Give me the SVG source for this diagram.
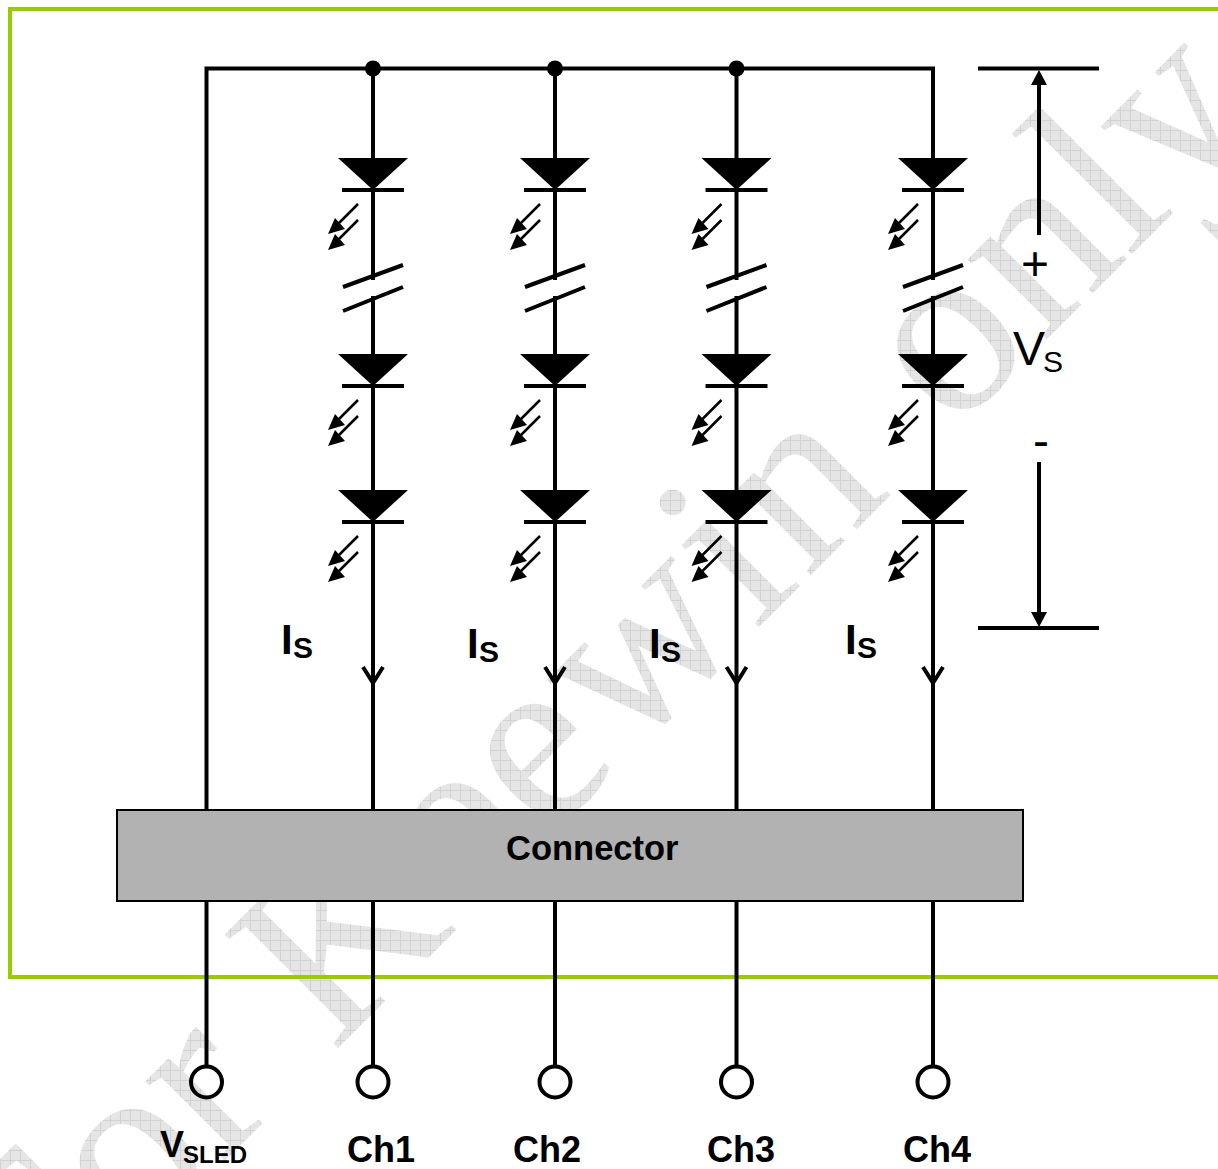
<svg xmlns="http://www.w3.org/2000/svg" xmlns:xlink="http://www.w3.org/1999/xlink" width="1218" height="1169" viewBox="0 0 1218 1169">
<style>
.w{stroke:#000;stroke-width:4;fill:none}
.t{stroke:#000;stroke-width:2.5;fill:none}
.f{fill:#000;stroke:none}
text{font-family:"Liberation Sans",Arial,sans-serif;fill:#000}
.b{font-weight:bold}
.l35{font-size:36px}
.c{font-size:34.500px}
.s23{font-size:24px}
.i{font-size:42px}
.s{font-size:30px}
.n{font-size:48px}
</style>
<defs>
<pattern id="wm" width="10" height="10" patternUnits="userSpaceOnUse" patternTransform="rotate(45)">
<rect width="10" height="10" fill="#e5e5e5"/>
<path d="M0 .5H10M.5 0V10" stroke="#d2d2d2" stroke-width="1"/>
</pattern>
<g id="led">
<path class="f" d="M-35 0H35L0 32Z"/>
<path class="w" d="M-31 32H31"/>
<path class="t" d="M-15 46L-34 65M-15 62L-34 81"/>
<path class="f" d="M-45 76L-38 60L-28 71ZM-45 92L-38 76L-28 87Z"/>
</g>
<g id="brk">
<path class="w" d="M-30 129L30 107M-30 153L30 129"/>
</g>
<path id="oa" class="w" d="M-10 667L0 683L10 667"/>
</defs>
<rect width="1218" height="1169" fill="#fff"/>
<text id="watermark" transform="rotate(-45)" x="-925 -789 -667 -585 -509 -320 -208 -94 88 161 283 367 495 616 686" y="980" style="font-family:'Liberation Serif','Times New Roman',serif;font-size:245px;fill:url(#wm)">For Keewin only</text>
<path id="frame" d="M1222 9H10V977H1222" fill="none" stroke="#99cc00" stroke-width="4"/>
<g id="connectors">
<path class="w" d="M206.500 810V68.500H933V158M373 68.500V158M555 68.500V158M736.500 68.500V158"/>
<path class="w" d="M373 190V280M373 296V354M373 386V490M373 522V810M373 901V1067"/>
<path class="w" d="M555 190V280M555 296V354M555 386V490M555 522V810M555 901V1067"/>
<path class="w" d="M736.500 190V280M736.500 296V354M736.500 386V490M736.500 522V810M736.500 901V1067"/>
<path class="w" d="M933 190V280M933 296V354M933 386V490M933 522V810M933 901V1067"/>
<path class="w" d="M206.500 901V1067"/>
<circle class="f" cx="373" cy="68.500" r="8"/>
<circle class="f" cx="555" cy="68.500" r="8"/>
<circle class="f" cx="736.500" cy="68.500" r="8"/>
<use href="#oa" x="373"/><use href="#oa" x="555"/><use href="#oa" x="736.500"/><use href="#oa" x="933"/>
</g>
<g id="ch1-leds"><use href="#led" x="373" y="158"/><use href="#brk" x="373" y="158"/><use href="#led" x="373" y="354"/><use href="#led" x="373" y="490"/></g>
<g id="ch2-leds"><use href="#led" x="555" y="158"/><use href="#brk" x="555" y="158"/><use href="#led" x="555" y="354"/><use href="#led" x="555" y="490"/></g>
<g id="ch3-leds"><use href="#led" x="736.500" y="158"/><use href="#brk" x="736.500" y="158"/><use href="#led" x="736.500" y="354"/><use href="#led" x="736.500" y="490"/></g>
<g id="ch4-leds"><use href="#led" x="933" y="158"/><use href="#brk" x="933" y="158"/><use href="#led" x="933" y="354"/><use href="#led" x="933" y="490"/></g>
<g id="vs-measure">
<path class="w" d="M978 68.500H1099M978 628H1099M1039 84V235M1039 462V612"/>
<path class="f" d="M1039 70L1047 85H1031ZM1039 627L1047 612H1031Z"/>
<text class="n" x="1021" y="280">+</text>
<text class="n" x="1033" y="457">-</text>
<text class="n" x="1013" y="365">V</text>
<text class="s" x="1043" y="372">S</text>
</g>
<g id="connector">
<rect x="117" y="810" width="906" height="91" fill="#b2b2b2" stroke="#000" stroke-width="2"/>
<text class="b c" x="506" y="860">Connector</text>
</g>
<g id="is1"><text class="b i" x="281" y="654">I</text><text class="b s" x="293" y="658">S</text></g>
<g id="is2"><text class="b i" x="467" y="658">I</text><text class="b s" x="479" y="662">S</text></g>
<g id="is3"><text class="b i" x="649" y="658">I</text><text class="b s" x="661" y="662">S</text></g>
<g id="is4"><text class="b i" x="845" y="654">I</text><text class="b s" x="857" y="658">S</text></g>
<g id="t-vsled"><circle class="w" cx="206.500" cy="1082" r="15.500"/><text class="b l35" x="160" y="1157">V</text><text class="b s23" x="183" y="1163">SLED</text></g>
<g id="t-ch1"><circle class="w" cx="373" cy="1082" r="15.500"/><text class="b l35" x="347" y="1162">Ch1</text></g>
<g id="t-ch2"><circle class="w" cx="555" cy="1082" r="15.500"/><text class="b l35" x="513" y="1162">Ch2</text></g>
<g id="t-ch3"><circle class="w" cx="736.500" cy="1082" r="15.500"/><text class="b l35" x="707" y="1162">Ch3</text></g>
<g id="t-ch4"><circle class="w" cx="933" cy="1082" r="15.500"/><text class="b l35" x="903" y="1162">Ch4</text></g>
</svg>
